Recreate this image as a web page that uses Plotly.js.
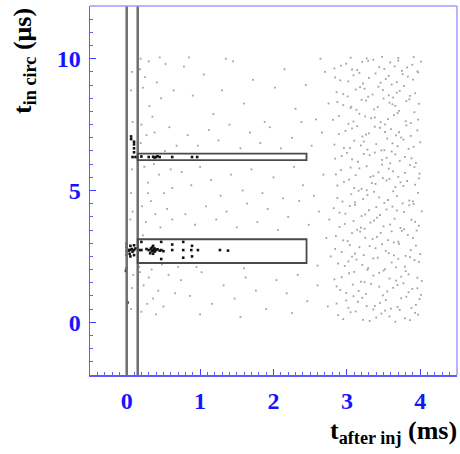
<!DOCTYPE html>
<html><head><meta charset="utf-8">
<script src="https://cdn.plot.ly/plotly-3.0.1.min.js"></script>
<style>html,body{margin:0;padding:0;background:#fff}#c{width:460px;height:454px}</style>
</head><body><div id="c"></div>
<script>
// ---- data ----
// dense background region (t_after inj ~2.8-4 ms)
const denseX = [2.95,3.12,3.31,3.47,3.58,3.72,3.86,3.97,3.05,3.40,3.66,
2.86,3.02,3.21,3.38,3.53,3.69,3.81,3.94,3.15,3.60,3.99,
2.91,3.08,3.26,3.44,3.55,3.77,3.89,4.01,3.33,3.63,2.99,
2.83,3.10,3.19,3.36,3.50,3.67,3.84,3.96,3.28,3.74,3.03,
2.97,3.13,3.29,3.42,3.61,3.79,3.92,3.07,3.52,3.70,2.88,
2.93,3.04,3.23,3.39,3.57,3.71,3.87,4.00,3.17,3.48,3.80,
2.85,3.01,3.18,3.35,3.46,3.64,3.83,3.95,3.25,3.56,3.75,
2.90,3.09,3.24,3.41,3.59,3.73,3.88,3.98,3.32,3.65,3.14,
2.82,2.98,3.11,3.30,3.45,3.62,3.78,3.91,3.54,3.20,4.02,
2.94,3.06,3.22,3.37,3.51,3.68,3.85,3.97,3.44,3.76,3.16,
2.87,3.03,3.20,3.34,3.49,3.66,3.82,3.93,3.27,3.58,3.73,
2.92,3.12,3.27,3.43,3.57,3.70,3.86,3.99,3.05,3.63,3.36,
2.84,3.00,3.15,3.31,3.48,3.61,3.79,3.94,3.23,3.54,3.72,
2.96,3.10,3.28,3.40,3.55,3.69,3.84,4.00,3.19,3.47,3.77,
2.89,3.07,3.21,3.38,3.52,3.67,3.81,3.96,3.30,3.60,3.74,
2.81,3.02,3.17,3.33,3.46,3.64,3.80,3.92,3.25,3.56,3.87,
2.95,3.13,3.26,3.42,3.58,3.71,3.85,3.98,3.05,3.50,3.66,
2.86,3.01,3.18,3.35,3.49,3.63,3.78,3.93,3.24,3.57,3.72,
2.91,3.09,3.22,3.39,3.53,3.68,3.83,3.97,3.30,3.61,3.76,
2.83,2.99,3.14,3.29,3.44,3.59,3.75,3.89,3.36,3.65,4.01,
3.05,3.27,3.48,3.70,3.91,
2.88,3.22,3.52,3.79,3.93,3.36,
2.99,3.27,3.45,3.74,3.88,3.09,
2.86,3.16,3.49,3.69,3.84,3.96,
2.93,3.24,3.44,3.58,3.80,4.02,
3.02,3.21,3.36,3.67,3.86,3.98,
2.84,3.11,3.31,3.53,3.64,3.94,
2.95,3.07,3.41,3.61,3.70,3.90,
2.97,3.19,3.37,3.50,3.78,3.93,
2.90,3.04,3.25,3.40,3.68,3.85,
2.87,3.11,3.28,3.56,3.63,3.90,
2.96,3.10,3.39,3.54,3.77,3.98,
2.85,3.17,3.32,3.48,3.79,3.92,
2.93,3.07,3.38,3.59,3.66,3.88,
2.83,3.04,3.23,3.51,3.62,3.91,
2.98,3.14,3.26,3.45,3.71,3.87,
2.89,3.09,3.38,3.52,3.69,3.97,
2.87,3.06,3.20,3.37,3.62,3.81,
2.95,3.12,3.29,3.43,3.68,3.86,
2.84,3.02,3.17,3.46,3.57,3.90,
2.92,3.07,3.21,3.51,3.70,3.82,3.96];
const denseY = [0.12,0.41,0.05,0.33,0.22,0.47,0.08,0.29,0.38,0.18,0.02,
0.71,0.55,0.93,0.62,0.84,0.58,0.97,0.66,0.78,0.52,0.88,
1.22,1.43,1.08,1.35,1.17,1.48,1.27,1.04,1.46,1.31,1.11,
1.63,1.91,1.54,1.77,1.96,1.58,1.82,1.69,1.99,1.73,1.86,
2.14,2.38,2.06,2.45,2.27,2.11,2.36,2.49,2.02,2.41,2.23,
2.67,2.93,2.55,2.81,2.62,2.98,2.74,2.59,2.85,2.96,2.52,
3.27,3.08,3.44,3.16,3.39,3.03,3.31,3.48,3.21,3.12,3.47,
3.62,3.84,3.55,3.97,3.71,3.58,3.89,3.66,3.78,3.93,3.51,
4.33,4.12,4.46,4.25,4.07,4.39,4.18,4.49,4.28,4.03,4.21,
4.58,4.86,4.67,4.95,4.53,4.79,4.62,4.91,4.74,4.51,4.99,
5.19,5.41,5.06,5.28,5.47,5.13,5.36,5.22,5.01,5.44,5.31,
5.77,5.58,5.92,5.69,5.83,5.52,5.96,5.64,5.87,5.73,5.55,
6.21,6.43,6.09,6.34,6.16,6.48,6.27,6.05,6.39,6.24,6.12,
6.62,6.89,6.55,6.76,6.97,6.68,6.58,6.83,6.71,6.52,6.93,
7.14,7.36,7.05,7.42,7.22,7.09,7.47,7.28,7.17,7.33,7.01,
7.68,7.53,7.91,7.74,7.59,7.86,7.63,7.97,7.81,7.71,7.56,
8.24,8.06,8.41,8.17,8.33,8.02,8.46,8.29,8.13,8.49,8.21,
8.73,8.57,8.92,8.64,8.81,8.53,8.97,8.69,8.86,8.61,8.78,
9.18,9.37,9.06,9.44,9.23,9.11,9.32,9.48,9.27,9.02,9.41,
9.63,9.81,9.57,9.92,9.68,9.86,9.54,9.77,9.96,9.71,9.89,
10.04,10.01,10.07,10.03,10.06,
0.27,0.09,0.44,0.15,0.36,0.49,
0.83,0.61,0.74,0.91,0.54,0.99,
1.36,1.19,1.02,1.41,1.14,1.29,
1.71,1.52,1.88,1.66,1.94,1.57,
2.31,2.18,2.42,2.08,2.47,2.29,
2.78,2.61,2.89,2.71,2.54,2.91,
3.11,3.38,3.24,3.45,3.06,3.19,
3.73,3.59,3.86,3.64,3.53,3.81,
4.16,4.41,4.09,4.37,4.24,4.44,
4.71,4.55,4.83,4.64,4.97,4.59,
5.33,5.09,5.25,5.38,5.17,5.46,
5.61,5.84,5.51,5.98,5.67,5.89,
6.31,6.18,6.44,6.03,6.37,6.22,
6.74,6.61,6.86,6.53,6.79,6.66,
7.26,7.44,7.12,7.38,7.21,7.07,
7.83,7.62,7.77,7.51,7.94,7.69,
8.36,8.18,8.44,8.08,8.27,8.39,
8.66,8.83,8.56,8.94,8.71,8.59,
9.29,9.14,9.46,9.09,9.35,9.21,
9.74,9.59,9.88,9.61,9.93,9.67,9.52];

// sparse background region (0.05-2.8 ms)
const sparseX = [0.18,0.22,0.25,0.31,0.20,0.27,0.35,0.41,0.47,0.53,0.58,0.64,0.19,0.24,0.29,0.37,0.44,0.51,0.60,0.68,
0.21,0.26,0.33,0.39,0.46,0.55,0.62,0.18,0.23,0.30,0.36,0.43,0.50,0.57,0.66,0.20,0.28,0.40,0.17,0.34,0.48,0.70,0.19,0.30,0.45,0.38,0.52,0.29,0.62,0.22,
0.78,0.90,1.05,1.18,1.30,1.45,1.60,1.72,1.88,2.02,2.15,2.30,2.44,2.58,2.70,
0.83,0.97,1.12,1.25,1.40,1.55,1.68,1.82,1.95,2.10,2.25,2.38,2.52,2.66,
0.75,0.88,1.00,1.15,1.28,1.42,1.58,1.70,1.85,2.00,2.13,2.28,2.40,2.55,2.68,
0.80,0.93,1.08,1.22,1.36,1.50,1.64,1.78,1.92,2.06,2.20,2.35,2.48,2.62,2.76,
0.74,0.86,1.02,1.16,1.32,1.47,1.62,1.76,1.90,2.04,2.18,2.33,2.46,2.60,2.74,
1.00,1.55,2.25,0.95,1.60,2.60,2.75,2.78,2.72,2.64,1.35,0.85,
0.07,0.06,0.08,0.05,0.07,0.06,0.08,0.06,0.07,0.09];
const sparseY = [9.6,8.9,9.3,8.2,7.5,7.1,7.8,9.1,8.5,9.8,7.4,8.8,6.8,5.9,5.3,6.0,5.6,4.9,5.8,6.7,
4.4,3.8,4.6,4.1,3.6,4.3,3.9,1.9,1.4,1.7,0.9,1.2,0.6,1.8,1.1,0.4,0.7,0.3,2.1,2.0,2.2,2.1,10.0,9.9,10.05,7.2,6.5,4.9,5.1,3.3,
9.7,8.6,9.4,7.9,8.8,9.9,8.3,9.2,7.6,8.9,9.6,8.1,9.0,7.7,9.5,
7.1,6.7,7.3,6.9,7.5,6.6,7.2,6.8,7.4,6.6,7.0,7.6,6.7,7.2,
5.7,5.2,5.9,5.4,4.8,5.6,5.0,5.8,4.9,5.5,4.7,5.9,5.2,4.8,5.6,
4.1,3.7,4.4,3.9,4.2,3.6,4.5,3.8,4.3,3.5,4.0,4.6,3.7,4.2,3.9,
1.6,1.0,1.9,0.7,1.4,0.9,1.7,1.2,0.5,1.6,1.1,1.8,0.8,1.4,0.6,
0.3,0.2,0.35,2.1,2.05,2.15,8.3,2.5,3.2,10.0,10.0,10.05,
5.8,4.9,4.2,3.9,1.3,0.5,7.6,8.8,9.5,1.8];

// dark clusters of hits
const clusterX = [0.00,0.00,0.00,0.00,0.01,0.03,0.04,0.05,0.05,0.05,0.07,0.08,0.10,0.10,0.10,0.12,0.17,0.20,0.20,0.27,0.30,0.32,0.33,0.34,0.35,0.35,0.36,0.36,0.36,0.37,0.38,0.38,0.39,0.40,0.42,0.45,0.47,0.47,0.47,0.50,0.62,0.62,0.77,0.77,0.77,0.88,0.89,0.89,0.97,1.27,1.38,
0.00,-0.01,0.01,
0.10,0.10,0.10,0.10,0.08,0.12,0.15,0.20,0.30,0.36,0.38,0.40,0.42,0.45,0.62,0.89,0.96,0.06,0.06];
const clusterY = [2.55,2.70,2.85,2.98,2.75,2.72,2.60,2.75,2.90,2.50,2.78,2.68,2.55,2.74,2.92,2.80,2.74,2.74,3.05,2.78,2.74,2.62,2.80,2.70,2.74,2.85,2.60,2.72,2.90,2.76,2.68,2.80,2.74,2.74,2.77,2.72,2.40,2.74,3.05,2.70,2.74,2.95,2.45,2.74,3.05,2.74,2.50,2.90,2.74,2.74,2.72,
2.05,1.95,0.75,
6.45,6.60,6.75,6.85,6.27,6.27,6.27,6.29,6.27,6.28,6.25,6.27,6.30,6.27,6.27,6.27,6.27,6.95,7.05];

// selection lines and boxes
const cutX = [0, 0.15];
const boxX0 = [0.15, 0.15];
const boxX1 = [2.45, 2.45];
const boxY0 = [2.25, 6.15];
const boxY1 = [3.15, 6.40];

const xTicks = [0, 1, 2, 3, 4];
const yTicks = [0, 5, 10];
const xTitle = "t<sub>after inj</sub> (ms)";
const yTitle = "t<sub>in circ</sub> (μs)";

// ---- drawing ----
const traces = [
  {x: denseX, y: denseY, type: 'scatter', mode: 'markers', hoverinfo: 'skip',
   marker: {size: 1.8, color: '#a2a2a2', symbol: 'square', line: {width: 0}}},
  {x: sparseX, y: sparseY, type: 'scatter', mode: 'markers', hoverinfo: 'skip',
   marker: {size: 1.8, color: '#a2a2a2', symbol: 'square', line: {width: 0}}},
  {x: clusterX, y: clusterY, type: 'scatter', mode: 'markers', hoverinfo: 'skip',
   marker: {size: 2.6, color: '#111', symbol: 'square', line: {width: 0}}}
];

const shapes = [];
cutX.forEach(v => shapes.push({type: 'line', xref: 'x', yref: 'paper', x0: v, x1: v, y0: 0, y1: 1,
  line: {color: '#6e6e6e', width: 2.5}}));
boxX0.forEach((v, i) => shapes.push({type: 'rect', xref: 'x', yref: 'y', x0: v, x1: boxX1[i], y0: boxY0[i], y1: boxY1[i],
  line: {color: '#4a4a4a', width: 1.8}}));
// frame top and right
shapes.push({type: 'line', xref: 'paper', yref: 'paper', x0: 0, x1: 1, y0: 1, y1: 1, line: {color: '#9c9cff', width: 1.5}});
shapes.push({type: 'line', xref: 'paper', yref: 'paper', x0: 1, x1: 1, y0: 0, y1: 1, line: {color: '#9c9cff', width: 1.5}});

const tickFont = {family: 'Liberation Serif, Times New Roman, serif', size: 24, color: '#1414ff', weight: 'bold'};
const titleFont = {family: 'Liberation Serif, Times New Roman, serif', size: 26, color: '#000', weight: 'bold'};

const layout = {
  width: 460, height: 454,
  margin: {l: 90, r: 3, t: 6, b: 79, pad: 0},
  paper_bgcolor: '#fff', plot_bgcolor: '#fff',
  showlegend: false,
  xaxis: {range: [-0.5, 4.5], tickvals: xTicks, ticktext: xTicks.map(v => '<b>' + v + '</b>'),
    ticks: 'inside', ticklen: 6, tickwidth: 1, tickcolor: '#4040ff',
    minor: {dtick: 0.1, ticks: 'inside', ticklen: 3, tickcolor: '#6060ff', showgrid: false},
    showgrid: false, zeroline: false, showline: true, linecolor: '#5c5cff', linewidth: 1.5,
    tickfont: tickFont, ticklabelstandoff: 4},
  yaxis: {range: [-2, 12], tickvals: yTicks, ticktext: yTicks.map(v => '<b>' + v + '</b>'),
    ticks: 'inside', ticklen: 6, tickwidth: 1, tickcolor: '#4040ff',
    minor: {dtick: 0.5, ticks: 'inside', ticklen: 3, tickcolor: '#6060ff', showgrid: false},
    showgrid: false, zeroline: false, showline: true, linecolor: '#5c5cff', linewidth: 1.5,
    tickfont: tickFont, ticklabelstandoff: 3},
  shapes: shapes,
  annotations: [
    {text: '<b>' + xTitle + '</b>', xref: 'paper', yref: 'paper', x: 1.005, y: -0.155, xanchor: 'right', yanchor: 'middle',
     showarrow: false, font: titleFont},
    {text: '<b>' + yTitle + '</b>', xref: 'paper', yref: 'paper', x: -0.18, y: 1.0, xanchor: 'center', yanchor: 'top',
     textangle: -90, showarrow: false, font: titleFont}
  ]
};

Plotly.newPlot('c', traces, layout, {staticPlot: true, displayModeBar: false});
</script>
</body></html>
